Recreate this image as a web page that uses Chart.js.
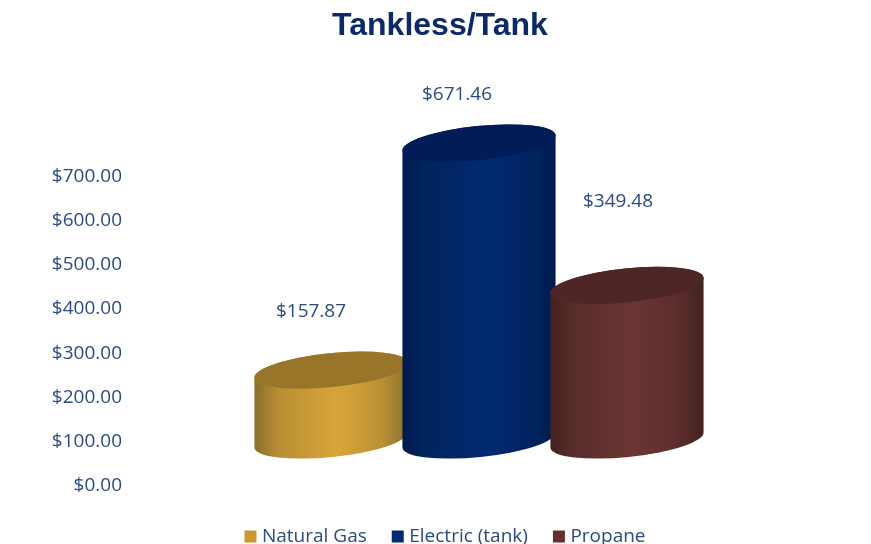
<!DOCTYPE html>
<html>
<head>
<meta charset="utf-8">
<title>Tankless/Tank</title>
<script src="https://cdn.jsdelivr.net/npm/chart.js@4"></script>
<style>
  html, body { margin: 0; background: #fff; }
  canvas { display: block; }
</style>
</head>
<body>
<div style="width:871px;height:544px;position:relative"><canvas id="mainChart"></canvas></div>
<script>
const categories = ["Natural Gas", "Electric (tank)", "Propane"];
const costs = [157.87, 671.46, 349.48];
const tickLabelColor = "#2a4a80";

// cylinder colours: edge, mid, centre, lid
const cylinderColors = [
  { edge: "#8a6c2c", mid: "#b98f34", centre: "#d9a539", lid: "#99752a" },
  { edge: "#001a4e", mid: "#01245f", centre: "#012a70", lid: "#011c56" },
  { edge: "#43221f", mid: "#5a2d2c", centre: "#6b3634", lid: "#4e2625" }
];
const legendColors = ["#c9992f", "#012a70", "#652f2e"];

// the data labels sit by hand in the source picture, offset from the lid
const labelOffsets = [[-20, -59], [-22, -48], [-9, -84]];

const FLOOR_LIFT = 46; // 3D floor sits above the axis zero
const TILT = -5.8 * Math.PI / 180;
const LID_MINOR = 17;

const cylinderPlugin = {
  id: "cylinders",
  afterLayout(chart) {
    // legend is not centred on the title in the source
    chart.legend.left += 7;
    chart.legend.right += 7;
  },
  afterDatasetsDraw(chart) {
    const { ctx } = chart;
    const bars = chart.getDatasetMeta(0).data;
    bars.forEach((bar, i) => {
      const c = cylinderColors[i];
      const r = bar.width / 2;
      const top = bar.y - FLOOR_LIFT;
      const bottom = bar.base - FLOOR_LIFT;

      const grad = ctx.createLinearGradient(bar.x - r, 0, bar.x + r, 0);
      grad.addColorStop(0, c.edge);
      grad.addColorStop(0.16, c.mid);
      grad.addColorStop(0.55, c.centre);
      grad.addColorStop(0.84, c.mid);
      grad.addColorStop(1, c.edge);

      ctx.save();
      ctx.beginPath();
      ctx.ellipse(bar.x, bottom, r, LID_MINOR, TILT, 0, Math.PI);
      ctx.ellipse(bar.x, top, r, LID_MINOR, TILT, Math.PI, 2 * Math.PI);
      ctx.closePath();
      ctx.fillStyle = grad;
      ctx.fill();

      ctx.beginPath();
      ctx.ellipse(bar.x, top, r, LID_MINOR, TILT, 0, 2 * Math.PI);
      ctx.fillStyle = c.lid;
      ctx.fill();
      ctx.restore();
    });

    // value labels go on top of all the cylinders
    ctx.save();
    ctx.font = '19px "Open Sans"';
    ctx.fillStyle = tickLabelColor;
    ctx.textAlign = "center";
    ctx.textBaseline = "middle";
    bars.forEach((bar, i) => {
      const [dx, dy] = labelOffsets[i];
      ctx.fillText("$" + costs[i].toFixed(2), bar.x + dx, bar.y - FLOOR_LIFT + dy);
    });
    ctx.restore();
  }
};

new Chart(document.getElementById("mainChart"), {
  type: "bar",
  data: {
    labels: categories,
    datasets: [{
      data: costs,
      backgroundColor: "rgba(0,0,0,0)",
      categoryPercentage: 1,
      barPercentage: 1.04
    }]
  },
  options: {
    responsive: true,
    maintainAspectRatio: false,
    animation: false,
    // negative bottom: legend has the same padding above and below its text,
    // and the source has it close to the window edge
    layout: { padding: { left: 9, bottom: -12 } },
    scales: {
      // no ticks, only holds the gap between plot and legend
      x: {
        grid: { display: false },
        border: { display: false },
        ticks: { display: false },
        afterFit(scale) { scale.height = 12; }
      },
      y: {
        min: 0,
        max: 700,
        // ticks.padding also eats plot height, tickLength does not
        grid: { display: false, tickLength: 135 },
        border: { display: false },
        ticks: {
          stepSize: 100,
          padding: 0,
          color: tickLabelColor,
          font: { family: "Open Sans", size: 19 },
          callback: (v) => "$" + v.toFixed(2)
        },
        afterFit(scale) { scale.width = 248; }
      },
      // empty axis, only keeps the plot clear of the right side
      spacer: {
        position: "right",
        grid: { display: false },
        border: { display: false },
        ticks: { display: false },
        afterFit(scale) { scale.width = 170; }
      }
    },
    plugins: {
      title: {
        display: true,
        text: "Tankless/Tank",
        color: "#0b2a66",
        font: { family: "Liberation Sans", size: 32, weight: "bold" },
        padding: { top: 7, bottom: 131 }
      },
      legend: {
        position: "bottom",
        labels: {
          color: tickLabelColor,
          font: { family: "Open Sans", size: 19 },
          // small box plus a thick stroke: sits closer to its text than a plain box
          boxWidth: 4,
          boxHeight: 4,
          padding: 29,
          generateLabels: () => categories.map((name, i) => ({
            text: name,
            fillStyle: legendColors[i],
            strokeStyle: legendColors[i],
            lineWidth: 8,
            fontColor: tickLabelColor,
            index: i
          }))
        }
      },
      tooltip: { enabled: false }
    }
  },
  plugins: [cylinderPlugin]
});
</script>
</body>
</html>
